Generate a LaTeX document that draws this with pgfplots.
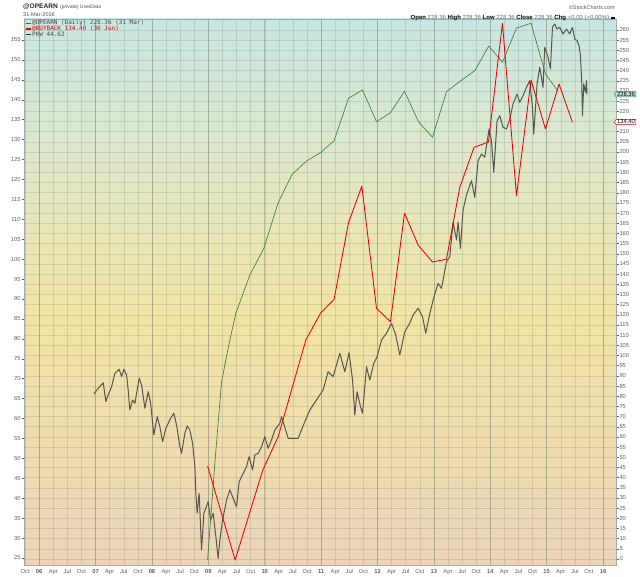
\documentclass[border=0pt]{standalone}
\usepackage{fontspec}
\setmainfont{Liberation Sans}
\newfontfamily\monof{DejaVu Sans Mono}
\usepackage{pgfplots}
\pgfplotsset{compat=1.18}
\usetikzlibrary{shapes.symbols}
\definecolor{bgteal}{RGB}{200,230,228}
\definecolor{bgmint}{RGB}{223,231,201}
\definecolor{bgyel}{RGB}{241,228,164}
\definecolor{bgora}{RGB}{240,220,175}
\definecolor{bgpea}{RGB}{236,212,186}
\definecolor{pricegray}{RGB}{86,86,78}
\definecolor{bbred}{RGB}{236,0,0}
\definecolor{pkwgreen}{RGB}{56,128,56}
\definecolor{gridc}{RGB}{120,130,110}
\definecolor{tickc}{RGB}{95,95,95}
\definecolor{frame}{RGB}{160,172,172}
\pgfdeclareverticalshading{scbg}{100bp}{color(0bp)=(bgpea); color(25bp)=(bgpea); color(36bp)=(bgora); color(48bp)=(bgyel); color(62bp)=(bgmint); color(75bp)=(bgteal); color(100bp)=(bgteal)}
\begin{document}
\begin{tikzpicture}
\path[use as bounding box] (0pt,0pt) rectangle (640pt,576pt);
% ---------- axis with the right-hand scale (price) ----------
\begin{axis}[
  at={(24pt,11pt)}, anchor=south west,
  width=592pt, height=546pt, scale only axis,
  xmin=2005.73, xmax=2016.23, ymin=-2.95, ymax=265.36,
  axis background/.style={shade, shading=scbg},
  axis line style={draw=frame},
  /pgf/number format/assume math mode=true,
  xtick={2005.75,2006,2006.25,2006.5,2006.75,2007,2007.25,2007.5,2007.75,2008,2008.25,2008.5,2008.75,2009,2009.25,2009.5,2009.75,2010,2010.25,2010.5,2010.75,2011,2011.25,2011.5,2011.75,2012,2012.25,2012.5,2012.75,2013,2013.25,2013.5,2013.75,2014,2014.25,2014.5,2014.75,2015,2015.25,2015.5,2015.75,2016},
  xticklabels={Oct,\textbf{06},Apr,Jul,Oct,\textbf{07},Apr,Jul,Oct,\textbf{08},Apr,Jul,Oct,\textbf{09},Apr,Jul,Oct,\textbf{10},Apr,Jul,Oct,\textbf{11},Apr,Jul,Oct,\textbf{12},Apr,Jul,Oct,\textbf{13},Apr,Jul,Oct,\textbf{14},Apr,Jul,Oct,\textbf{15},Apr,Jul,Oct,\textbf{16}},
  xtick pos=bottom,
  xticklabel style={font=\fontsize{5.8}{6}\selectfont, text=tickc, inner sep=1pt, yshift=-0.5pt},
  xtick style={draw=none},
  extra x ticks={2006,2007,2008,2009,2010,2011,2012,2013,2014,2015,2016},
  extra x tick labels={},
  extra x tick style={major grid style={draw=gridc, opacity=0.42, line width=0.5pt}},
  ytick={0,5,...,260},
  ytick pos=right, yticklabel pos=right,
  yticklabel style={font=\fontsize{5.8}{6}\selectfont, text=tickc, inner sep=0.8pt, anchor=west},
  ytick style={draw=tickc, line width=0.4pt},
  major tick length=2.5pt, tick align=outside,
  xmajorgrids, ymajorgrids,
  major grid style={draw=gridc, opacity=0.22, line width=0.45pt},
  clip=true,
]
\addplot[pricegray, line width=1pt, line join=round] coordinates {
(2006.970,81.08) (2007.046,83.88) (2007.135,86.63) (2007.183,77.30) (2007.206,79.46)
(2007.284,84.67) (2007.342,91.25) (2007.418,93.22) (2007.461,89.58) (2007.502,93.22)
(2007.550,90.42) (2007.578,83.05) (2007.608,73.22) (2007.656,78.13) (2007.697,76.51)
(2007.773,88.80) (2007.816,85.50) (2007.874,74.05) (2007.933,82.21) (2007.975,76.51)
(2008.034,60.93) (2008.092,69.93) (2008.140,65.01) (2008.188,57.64) (2008.246,64.23)
(2008.330,69.14) (2008.388,71.60) (2008.436,65.85) (2008.495,55.18) (2008.525,51.94)
(2008.583,61.77) (2008.624,65.36) (2008.672,63.39) (2008.720,56.85) (2008.761,45.36)
(2008.778,32.28) (2008.801,22.46) (2008.837,32.28) (2008.879,4.42) (2008.920,22.46)
(2008.996,28.16) (2009.039,19.16) (2009.085,22.46) (2009.133,10.96) (2009.174,0.30)
(2009.204,9.34) (2009.252,19.16) (2009.323,28.99) (2009.381,33.91) (2009.429,30.61)
(2009.500,25.70) (2009.546,37.99) (2009.617,42.11) (2009.677,45.36) (2009.723,50.27)
(2009.784,43.73) (2009.824,51.11) (2009.883,51.94) (2009.943,55.18) (2010.002,60.10)
(2010.060,54.40) (2010.120,58.48) (2010.179,63.39) (2010.268,66.68) (2010.298,69.93)
(2010.415,59.31) (2010.592,59.31) (2010.711,67.47) (2010.800,73.22) (2010.918,78.13)
(2011.035,83.05) (2011.124,92.04) (2011.213,89.58) (2011.331,101.08) (2011.420,92.04)
(2011.496,101.38) (2011.557,87.96) (2011.597,70.76) (2011.638,82.21) (2011.698,74.84)
(2011.734,71.60) (2011.805,94.50) (2011.863,87.96) (2011.934,96.17) (2011.993,99.41)
(2012.071,107.62) (2012.159,110.91) (2012.248,115.82) (2012.324,110.07) (2012.395,100.25)
(2012.484,111.70) (2012.572,115.82) (2012.631,119.90) (2012.720,123.19) (2012.798,119.07)
(2012.856,110.91) (2012.915,119.07) (2012.986,127.27) (2013.074,135.48) (2013.135,133.02)
(2013.223,146.09) (2013.282,148.55) (2013.340,165.60) (2013.401,156.76) (2013.429,165.60)
(2013.471,152.68) (2013.518,171.50) (2013.578,178.87) (2013.667,185.90) (2013.725,177.74)
(2013.784,195.73) (2013.844,199.02) (2013.902,197.40) (2013.979,211.30) (2014.021,205.55)
(2014.062,190.02) (2014.121,215.38) (2014.168,217.84) (2014.227,212.14) (2014.287,211.30)
(2014.346,216.22) (2014.404,223.59) (2014.475,228.50) (2014.523,224.42) (2014.582,227.67)
(2014.642,231.79) (2014.700,235.04) (2014.748,221.97) (2014.771,208.85) (2014.830,233.42)
(2014.877,241.62) (2014.936,231.79) (2014.966,251.45) (2015.025,246.54) (2015.067,240.79)
(2015.103,261.28) (2015.143,262.90) (2015.184,260.44) (2015.232,261.28) (2015.291,257.99)
(2015.351,260.44) (2015.410,257.99) (2015.457,261.28) (2015.498,255.53) (2015.539,254.70)
(2015.574,252.24) (2015.599,247.32) (2015.622,235.04) (2015.635,217.84) (2015.658,233.42)
(2015.688,229.34) (2015.706,235.04) (2015.716,228.36)
};
\end{axis}
% ---------- axis with the left-hand scale (buyback, PKW) ----------
\begin{axis}[
  at={(24pt,11pt)}, anchor=south west,
  width=592pt, height=546pt, scale only axis,
  xmin=2005.73, xmax=2016.23, ymin=23.24, ymax=160.26,
  hide x axis, axis y line*=left,
  y axis line style={draw=frame},
  /pgf/number format/assume math mode=true,
  ytick={25,30,...,155},
  ytick pos=left,
  yticklabel style={font=\fontsize{5.8}{6}\selectfont, text=tickc, inner sep=0.8pt, anchor=east},
  ytick style={draw=tickc, line width=0.4pt},
  major tick length=2.5pt, tick align=outside,
  clip=true,
]
\addplot[pkwgreen, line width=0.65pt, line join=round] coordinates {
(2008.986,24.50) (2009.115,48.76) (2009.234,69.24) (2009.381,79.71) (2009.488,86.41)
(2009.736,96.02) (2009.984,102.72) (2010.238,114.16) (2010.486,121.29) (2010.741,124.62)
(2010.989,126.71) (2011.230,129.72) (2011.486,140.36) (2011.734,142.44) (2011.982,134.49)
(2012.230,136.75) (2012.479,142.11) (2012.727,134.49) (2012.975,130.57) (2013.223,142.01)
(2013.477,144.78) (2013.725,147.29) (2013.973,153.48) (2014.216,149.39) (2014.465,158.00)
(2014.723,159.18) (2014.979,146.45) (2015.202,142.11)
};
\addplot[bbred, line width=0.85pt, line join=round] coordinates {
(2008.986,48.09) (2009.475,24.50) (2009.966,47.08) (2010.238,55.44) (2010.729,79.71)
(2010.989,86.41) (2011.230,89.92) (2011.486,109.14) (2011.722,118.35) (2011.982,87.66)
(2012.230,84.30) (2012.479,111.51) (2012.720,103.54) (2012.975,99.28) (2013.223,99.96)
(2013.459,118.03) (2013.713,128.06) (2013.968,129.39) (2014.216,159.18) (2014.465,115.92)
(2014.723,144.95) (2014.979,132.65) (2015.220,143.94) (2015.457,134.34)
};
\end{axis}
% ---------- header ----------
\node[anchor=base west, inner sep=0pt, font=\fontsize{6.6}{8}\selectfont\bfseries, text=black!85] at (23pt,567.5pt) {@OPEARN};
\node[anchor=base west, inner sep=0pt, font=\fontsize{5}{6}\selectfont, text=black!70] at (60pt,567.5pt) {(private) UserData};
\node[anchor=base west, inner sep=0pt, font=\fontsize{5.5}{6}\selectfont, text=black!70] at (23pt,559pt) {31-Mar-2016};
\node[anchor=base east, inner sep=0pt, font=\fontsize{5.5}{6}\selectfont, text=black!65] at (615pt,566pt) {©StockCharts.com};
\node[anchor=base east, inner sep=0pt, font=\fontsize{6}{7}\selectfont, text=black!60] at (615pt,556pt)
  {\textcolor{black}{\textbf{Open}} 228.36 \textcolor{black}{\textbf{High}} 228.36 \textcolor{black}{\textbf{Low}} 228.36 \textcolor{black}{\textbf{Close}} 228.36 \textcolor{black}{\textbf{Chg}} +0.00 (+0.00\%) \textcolor{black}{\rule[1.3pt]{4pt}{1.2pt}}};
% ---------- legend ----------
\fill[pricegray] (26pt,552.1pt) rectangle (30.5pt,553.3pt);
\node[anchor=west, inner sep=0pt, font=\monof\fontsize{6}{6.5}\selectfont, text=black!70] at (32pt,552.7pt) {@OPEARN (Daily) 228.36 (31 Mar)};
\fill[bbred] (26pt,546.4pt) rectangle (30.5pt,547.6pt);
\node[anchor=west, inner sep=0pt, font=\monof\fontsize{6}{6.5}\selectfont, text=bbred] at (32pt,547pt) {@BUYBACK 134.40 (30 Jun)};
\fill[black!80] (26pt,540.7pt) rectangle (30.5pt,541.9pt);
\node[anchor=west, inner sep=0pt, font=\monof\fontsize{6}{6.5}\selectfont, text=black!70] at (32pt,541.3pt) {PKW 44.62};
% ---------- last-value tags ----------
\node[signal, signal to=west, signal pointer angle=110, draw={rgb,255:red,60;green,120;blue,110}, fill={rgb,255:red,190;green,226;blue,220}, line width=0.5pt, inner xsep=1pt, inner ysep=0.6pt, anchor=west, font=\fontsize{5.8}{6}\selectfont] at (614pt,481.7pt) {228.36};
\node[signal, signal to=west, signal pointer angle=110, draw=bbred, fill=white, line width=0.5pt, inner xsep=1pt, inner ysep=0.6pt, anchor=west, font=\fontsize{5.8}{6}\selectfont] at (614pt,454pt) {134.40};
\end{tikzpicture}
\end{document}
